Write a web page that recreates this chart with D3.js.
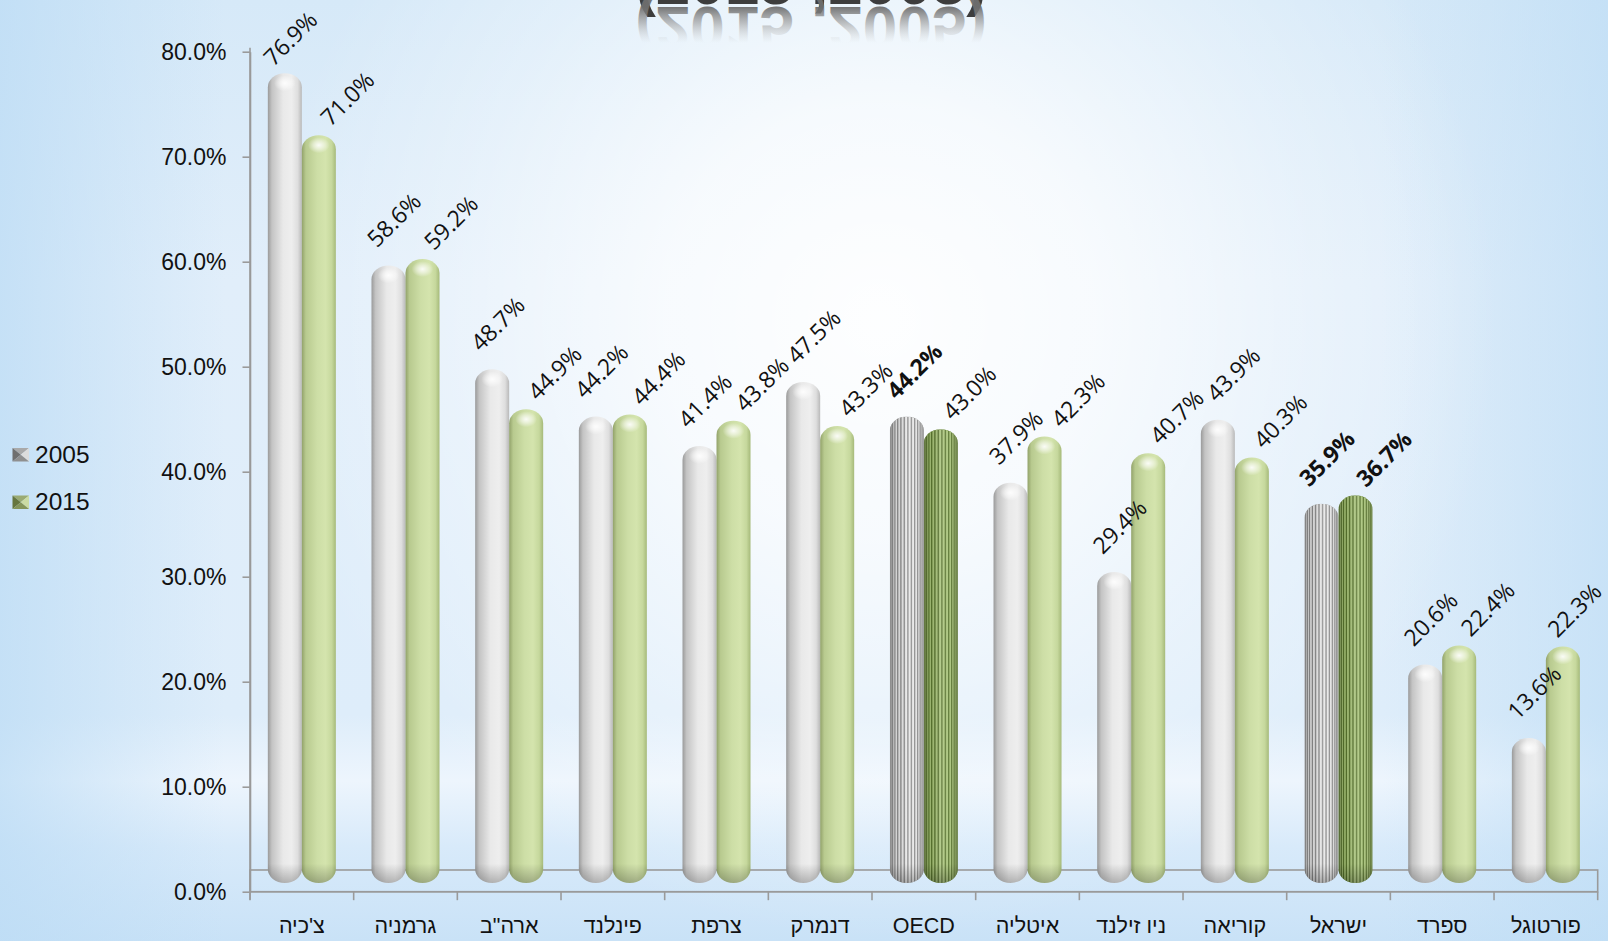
<!DOCTYPE html>
<html><head><meta charset="utf-8">
<script src="https://cdn.jsdelivr.net/npm/d3@7/dist/d3.min.js"></script>
<style>html,body{margin:0;padding:0;overflow:hidden;background:#e4f0fb}svg{display:block}</style>
</head><body>
<svg id="chart" width="1608" height="941"></svg>
<script>
// ---- data ----
const categories = ["צ'כיה","גרמניה",'ארה"ב',"פינלנד","צרפת","דנמרק","OECD","איטליה","ניו זילנד","קוריאה","ישראל","ספרד","פורטוגל"];
const seriesNames = ["2005","2015"];
const values2005 = [76.9,58.6,48.7,44.2,41.4,47.5,44.2,37.9,29.4,43.9,35.9,20.6,13.6];
const values2015 = [71.0,59.2,44.9,44.4,43.8,43.3,43.0,42.3,40.7,40.3,36.7,22.4,22.3];
const yTickValues = [0,10,20,30,40,50,60,70,80];
const titleText = "(2015 ,2005)";
const ribbedCategories = ["OECD","ישראל"];
const boldLabels = ["OECD|2005","ישראל|2005","ישראל|2015"];

const W = 1608, H = 941;
const svg = d3.select("#chart");
const defs = svg.append("defs");

// ---- background ----
function linGrad(id, stops, x1=0,y1=0,x2=0,y2=1){
  const g = defs.append("linearGradient").attr("id",id)
    .attr("x1",x1).attr("y1",y1).attr("x2",x2).attr("y2",y2);
  stops.forEach(s=>g.append("stop").attr("offset",s[0]).attr("stop-color",s[1]).attr("stop-opacity",s[2]==null?1:s[2]));
  return g;
}
linGrad("bgV",[[0,"#d6e9f8"],[0.3,"#e1eefa"],[0.76,"#deedfa"],[0.83,"#edf5fd"],[0.9,"#d8eafa"],[1,"#c9e2f7"]]);
linGrad("bgH",[[0,"#bcdcf5",0.75],[0.14,"#bcdcf5",0],[0.86,"#bcdcf5",0],[1,"#bcdcf5",0.65]],0,0,1,0);
const rg = defs.append("radialGradient").attr("id","glow").attr("gradientUnits","userSpaceOnUse")
  .attr("cx",880).attr("cy",320).attr("r",620);
[[0,0.95],[0.35,0.75],[0.7,0.3],[1,0]].forEach(s=>rg.append("stop").attr("offset",s[0]).attr("stop-color","#ffffff").attr("stop-opacity",s[1]));
svg.append("rect").attr("width",W).attr("height",H).attr("fill","url(#bgV)");
svg.append("rect").attr("width",W).attr("height",H).attr("fill","url(#bgH)");
svg.append("rect").attr("width",W).attr("height",H).attr("fill","url(#glow)");

// ---- title (cut off at top) with reflection ----
const titleX = 811, titleBase = 4, mirror = 5.5;
svg.append("text").attr("x",titleX).attr("y",titleBase).attr("text-anchor","middle")
  .attr("direction","ltr").attr("font-family","Liberation Sans, Arial, sans-serif")
  .attr("font-weight","bold").attr("font-size",62).attr("fill","#3d3d3d").text(titleText);
const rgT = defs.append("linearGradient").attr("id","reflGrad").attr("gradientUnits","userSpaceOnUse")
  .attr("x1",0).attr("x2",0).attr("y1",titleBase).attr("y2",titleBase-36);
[[0,"#6e6e6e",0.95],[0.45,"#9a9a9a",0.6],[1,"#c8c8c8",0]].forEach(s=>rgT.append("stop").attr("offset",s[0]).attr("stop-color",s[1]).attr("stop-opacity",s[2]));
svg.append("text").attr("x",titleX).attr("y",titleBase).attr("text-anchor","middle")
  .attr("direction","ltr").attr("font-family","Liberation Sans, Arial, sans-serif")
  .attr("font-weight","bold").attr("font-size",62).attr("fill","url(#reflGrad)")
  .attr("transform",`translate(0,${2*mirror}) scale(1,-1)`)
  .text(titleText);

// ---- scales ----
const left = 250, right = 1597.7, yZero = 891.7, yTop = 51.7;
const x0 = d3.scaleBand().domain(categories).range([left,right]).paddingInner(0.344).paddingOuter(0.172);
const x1 = d3.scaleBand().domain(seriesNames).range([0,x0.bandwidth()]).padding(0);
const y = d3.scaleLinear().domain([0,80]).range([yZero,yTop]);
const liftTop = 11, liftBottom = 8.7;

const axisColor = "#9a9a9a";

// floor
svg.append("rect").attr("x",left).attr("y",870).attr("width",right-left).attr("height",yZero-870)
  .attr("fill","none").attr("stroke",axisColor).attr("stroke-width",1.6);

// y axis
const yAxis = svg.append("g").attr("transform",`translate(${left},0)`)
  .call(d3.axisLeft(y).tickValues(yTickValues).tickFormat(d=>d.toFixed(1)+"%").tickSize(7.5).tickSizeOuter(0).tickPadding(16));
yAxis.select(".domain").attr("stroke",axisColor).attr("stroke-width",1.6);
yAxis.selectAll(".tick line").attr("stroke",axisColor).attr("stroke-width",1.6);
yAxis.selectAll(".tick text").attr("font-family","Liberation Sans, Arial, sans-serif").attr("font-size",23).attr("fill","#111");
svg.append("line").attr("x1",left).attr("x2",left).attr("y1",yTop-4).attr("y2",yZero+8)
  .attr("stroke",axisColor).attr("stroke-width",1.6);

// x axis (boundaries + labels)
const boundaries = categories.map(c=>x0(c) - (x0.step()-x0.bandwidth())/2).concat([right]);
svg.append("line").attr("x1",left).attr("x2",right).attr("y1",yZero).attr("y2",yZero).attr("stroke",axisColor).attr("stroke-width",1.6);
svg.append("g").selectAll("line").data(boundaries).join("line")
  .attr("x1",d=>d).attr("x2",d=>d).attr("y1",yZero).attr("y2",yZero+8.5)
  .attr("stroke",axisColor).attr("stroke-width",1.6);
svg.append("g").selectAll("text").data(categories).join("text")
  .attr("x",c=>x0(c)+x0.bandwidth()/2).attr("y",933)
  .attr("text-anchor","middle").attr("font-family","Liberation Sans, Arial, sans-serif")
  .attr("font-size",21.5).attr("fill","#111").text(c=>c);

// ---- gradients for bars ----
linGrad("cyl2005",[[0,"#9a9a9a"],[0.12,"#c4c4c4"],[0.45,"#e9e9e9"],[0.7,"#eeeeee"],[0.88,"#dedede"],[1,"#b9b9b9"]],0,0,1,0);
linGrad("cyl2015",[[0,"#92a26a"],[0.12,"#b8ca8f"],[0.45,"#cddea6"],[0.7,"#d4e4ad"],[0.88,"#c6d89d"],[1,"#a6ba7a"]],0,0,1,0);
linGrad("shadeOverlay",[[0,"#000",0.3],[0.18,"#000",0.08],[0.5,"#fff",0.18],[0.75,"#fff",0.1],[1,"#000",0.22]],0,0,1,0);
const bs = defs.append("linearGradient").attr("id","bottomShade").attr("gradientUnits","userSpaceOnUse")
  .attr("x1",0).attr("x2",0).attr("y1",yZero-28).attr("y2",yZero-liftBottom);
[[0,0],[1,0.25]].forEach(s=>bs.append("stop").attr("offset",s[0]).attr("stop-color","#000").attr("stop-opacity",s[1]));
const hl = defs.append("radialGradient").attr("id","capHL");
[[0,1],[0.5,0.55],[1,0]].forEach(s=>hl.append("stop").attr("offset",s[0]).attr("stop-color","#fff").attr("stop-opacity",s[1]));

const rows = [];
categories.forEach((c,i)=>{
  rows.push({cat:c, s:"2005", v:values2005[i]});
  rows.push({cat:c, s:"2015", v:values2015[i]});
});

const bw = x1.bandwidth();
const ryCap = 14;
const barsG = svg.append("g");
rows.forEach((d,k)=>{
  const bx = x0(d.cat)+x1(d.s);
  const top = y(d.v)-liftTop, bottom = y(0)-liftBottom;
  const g = barsG.append("g");
  const ribbed = ribbedCategories.includes(d.cat);
  if(!ribbed){
    g.append("rect").attr("x",bx).attr("y",top).attr("width",bw).attr("height",bottom-top)
      .attr("rx",bw/2).attr("ry",ryCap).attr("fill",`url(#cyl${d.s})`);
    g.append("rect").attr("x",bx).attr("y",top).attr("width",bw).attr("height",bottom-top)
      .attr("rx",bw/2).attr("ry",ryCap).attr("fill","url(#bottomShade)");
    g.append("ellipse").attr("cx",bx+bw*0.5).attr("cy",top+10).attr("rx",bw*0.32).attr("ry",8)
      .attr("fill","url(#capHL)").attr("opacity",0.9);
  } else {
    const cid = "clip"+k;
    defs.append("clipPath").attr("id",cid).append("rect").attr("x",bx).attr("y",top)
      .attr("width",bw).attr("height",bottom-top).attr("rx",bw/2).attr("ry",ryCap);
    const gc = g.append("g").attr("clip-path",`url(#${cid})`);
    const dark = d.s==="2005" ? "#8a8a8a" : "#56722a";
    const light = d.s==="2005" ? "#e6e6e6" : "#a6c276";
    gc.append("rect").attr("x",bx).attr("y",top).attr("width",bw).attr("height",bottom-top).attr("fill",dark);
    const N = 30, r = bw/2, cx = bx + r;
    const segs = d3.range(N).filter(j=>j%2===0).map(j=>{
      const a0 = -Math.PI/2 + Math.PI*j/N, a1 = -Math.PI/2 + Math.PI*(j+1.15)/N;
      return [cx + r*Math.sin(a0), cx + r*Math.sin(a1)];
    });
    gc.selectAll("rect.rib").data(segs).join("rect").attr("class","rib")
      .attr("x",s=>s[0]).attr("width",s=>Math.max(0.4,s[1]-s[0])).attr("y",top).attr("height",bottom-top)
      .attr("fill",light);
    gc.append("rect").attr("x",bx).attr("y",top).attr("width",bw).attr("height",bottom-top).attr("fill","url(#shadeOverlay)");
    gc.append("rect").attr("x",bx).attr("y",top).attr("width",bw).attr("height",bottom-top).attr("fill","url(#bottomShade)");
  }
});

// ---- data labels (rotated -45°, nudged right to avoid the previous label) ----
const fmt = v => v.toFixed(1)+"%";
const alongMin = 70, perpMin = 21;
let prev = null;
rows.forEach(d=>{
  let cx = x0(d.cat)+x1(d.s)+bw/2 + (d.s==="2005"?5:28);
  const cy = Math.max(38, y(d.v)-liftTop - (d.s==="2005"?46:37));
  if(prev){
    const overlaps = ()=>{
      const dx = cx-prev.cx, dy = cy-prev.cy;
      return Math.abs(dx-dy)/Math.SQRT2 < alongMin && Math.abs(dx+dy)/Math.SQRT2 < perpMin;
    };
    let guard = 0;
    while(overlaps() && guard++ < 60) cx += 1;
  }
  d.cx = Math.min(W-34, cx); d.cy = cy;
  prev = d;
});
svg.append("g").selectAll("text").data(rows).join("text")
  .attr("transform",d=>`translate(${d.cx},${d.cy}) rotate(-45)`)
  .attr("text-anchor","middle").attr("dominant-baseline","central")
  .attr("font-family","Open Sans, Noto Sans, sans-serif").attr("font-size",23)
  .attr("font-weight",d=>boldLabels.includes(d.cat+"|"+d.s)?"bold":"normal")
  .attr("fill","#111").text(d=>fmt(d.v));

// ---- legend ----
function bevel(g, x, yy, w, h, cols){
  const cxm = x+w/2, cym = yy+h/2;
  const tri = (pts,c)=>g.append("polygon").attr("points",pts.map(p=>p.join(",")).join(" ")).attr("fill",c);
  tri([[x,yy],[x+w,yy],[cxm,cym]],cols[0]);
  tri([[x,yy],[x,yy+h],[cxm,cym]],cols[1]);
  tri([[x+w,yy],[x+w,yy+h],[cxm,cym]],cols[2]);
  tri([[x,yy+h],[x+w,yy+h],[cxm,cym]],cols[3]);
}
const legend = svg.append("g");
const legendColors = {"2005":["#a9a9a9","#6f6f6f","#dcdcdc","#8f8f8f"],"2015":["#9aaa72","#66763f","#cbdba3","#85955a"]};
seriesNames.forEach((s,i)=>{
  const ly = 455 + i*47.5;
  bevel(legend, 12.5, ly-7, 16.5, 13.5, legendColors[s]);
  legend.append("text").attr("x",35).attr("y",ly+7.5).attr("font-family","Liberation Sans, Arial, sans-serif")
    .attr("font-size",24.5).attr("fill","#111").text(s);
});
</script>
</body></html>
